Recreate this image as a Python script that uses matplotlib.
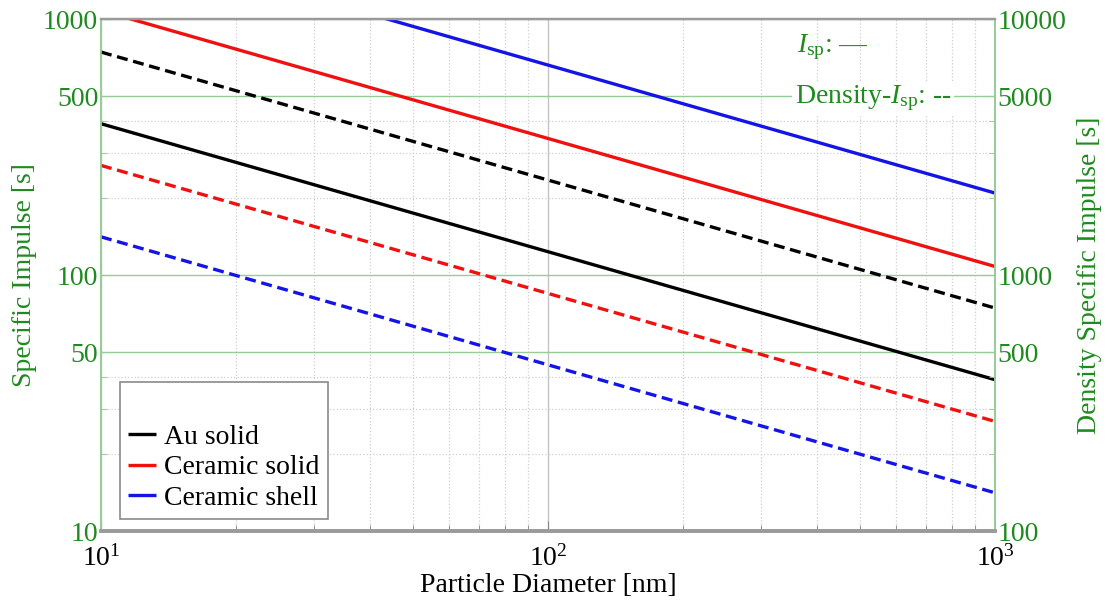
import numpy as np
import matplotlib
matplotlib.use("Agg")
import matplotlib.pyplot as plt
from matplotlib.ticker import FixedLocator, FixedFormatter, LogLocator, NullFormatter

# Particle diameter end points (nm) -- lines are straight on log-log axes
diameter_nm = [10, 1000]

# Specific impulse [s] (left axis, solid)
isp_au_solid = [390, 39]
isp_ceramic_solid = [1080, 108]
isp_ceramic_shell = [2090, 209]

# Density specific impulse [s] (right axis, dashed)
disp_au_solid = [7430, 743]
disp_ceramic_solid = [2680, 268]
disp_ceramic_shell = [1410, 141]

series_names = ["Au solid", "Ceramic solid", "Ceramic shell"]
series_colors = ["#000000", "#f01010", "#1414e6"]

left_ticks = [10, 50, 100, 500, 1000]
right_ticks = [100, 500, 1000, 5000, 10000]

green = "#1f8a1f"
light_green = "#96cc96"

plt.rcParams["font.family"] = ["Liberation Serif", "DejaVu Serif"]
plt.rcParams["mathtext.fontset"] = "custom"
plt.rcParams["mathtext.rm"] = "Liberation Serif"
plt.rcParams["mathtext.it"] = "Liberation Serif:italic"
plt.rcParams["font.size"] = 20


def style_log_y(ax, ticks):
    ax.set_yscale("log")
    ax.set_ylim(ticks[0], ticks[-1])
    ax.yaxis.set_major_locator(FixedLocator(ticks))
    ax.yaxis.set_major_formatter(FixedFormatter([str(t) for t in ticks]))
    ax.yaxis.set_minor_locator(LogLocator(base=10, subs=(2, 3, 4)))
    ax.yaxis.set_minor_formatter(NullFormatter())
    ax.tick_params(axis="y", which="both", direction="in", colors=light_green,
                   labelcolor=green, labelsize=20, pad=2)
    ax.tick_params(axis="y", which="major", length=7)
    ax.tick_params(axis="y", which="minor", length=4)


def main():
    fig = plt.figure(figsize=(11.11, 6.02), dpi=100)
    ax = fig.add_axes([0.0909, 0.1179, 0.8047, 0.8505])
    ax2 = ax.twinx()

    ax.set_xscale("log")
    ax.set_xlim(10, 1000)
    style_log_y(ax, left_ticks)
    style_log_y(ax2, right_ticks)

    ax.tick_params(axis="x", which="both", direction="in", colors="#888888",
                   labelcolor="black", labelsize=20, pad=10)
    ax.tick_params(axis="x", which="major", length=7)
    ax.tick_params(axis="x", which="minor", length=4)

    # grids
    ax.grid(True, axis="x", which="major", color="#c4c4c4", lw=1.0, ls="-")
    ax.grid(True, axis="x", which="minor", color="#cfcfcf", lw=0.9, ls=":")
    ax.grid(True, axis="y", which="minor", color="#cfcfcf", lw=0.9, ls=":")
    ax.grid(True, axis="y", which="major", color=light_green, lw=1.0, ls="-")
    ax.set_axisbelow(True)

    for a in (ax, ax2):
        a.spines["top"].set_color("#9a9a9a")
        a.spines["top"].set_linewidth(1.6)
        a.spines["bottom"].set_color("#9a9a9a")
        a.spines["bottom"].set_linewidth(2.6)
        a.spines["left"].set_color(light_green)
        a.spines["left"].set_linewidth(1.2)
        a.spines["right"].set_color(light_green)
        a.spines["right"].set_linewidth(1.2)

    isp = [isp_au_solid, isp_ceramic_solid, isp_ceramic_shell]
    disp = [disp_au_solid, disp_ceramic_solid, disp_ceramic_shell]
    handles = []
    for name, color, s, d in zip(series_names, series_colors, isp, disp):
        h, = ax.plot(diameter_nm, s, color=color, lw=2.4, solid_capstyle="butt",
                     label=name)
        ax2.plot(diameter_nm, d, color=color, lw=2.4, dashes=(3.3, 1.7))
        handles.append(h)

    ax.set_xlabel("Particle Diameter [nm]", fontsize=20, color="black", labelpad=1)
    ax.set_ylabel("Specific Impulse [s]", fontsize=20, color=green)
    ax.yaxis.set_label_coords(-0.072, 0.5)
    ax2.set_ylabel("Density Specific Impulse [s]", fontsize=20, color=green,
                   rotation=90)
    ax2.yaxis.set_label_coords(1.092, 0.5)

    leg = ax2.legend(handles, series_names, loc="lower left",
                     bbox_to_anchor=(0.021, 0.023), title=" ", fontsize=20,
                     title_fontsize=22, frameon=True, fancybox=False,
                     handlelength=1.0, handletextpad=0.3, borderpad=0.3,
                     labelspacing=0.18, borderaxespad=0)
    leg.get_frame().set_edgecolor("#8a8a8a")
    leg.get_frame().set_linewidth(1.2)
    leg.get_frame().set_alpha(1)

    ax2.text(0.778, 0.945, r"$I_{\rm sp}$: —", transform=ax2.transAxes,
             color=green, fontsize=20, va="center", ha="left")
    ax2.text(0.776, 0.845, r"Density-$I_{\rm sp}$: --", transform=ax2.transAxes,
             color=green, fontsize=20, va="center", ha="left",
             bbox=dict(facecolor="white", edgecolor="none", pad=2))

    fig.savefig("out.png", dpi=100)


if __name__ == "__main__":
    main()
